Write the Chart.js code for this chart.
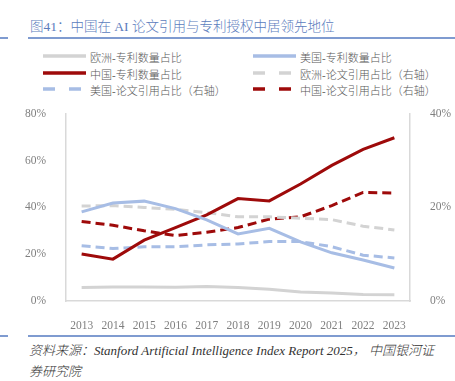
<!DOCTYPE html>
<html>
<head>
<meta charset="utf-8">
<script src="https://cdn.jsdelivr.net/npm/chart.js@4"></script>
<style>
  body { margin: 0; width: 455px; height: 381px; overflow: hidden; background: #fff; position: relative;
         font-family: "Liberation Serif", "Noto Sans CJK SC", serif; }
  .title { position: absolute; left: 30px; top: 15px; font-size: 13.5px; font-weight: 300; color: #5b7cbd; white-space: nowrap; }
  .rule { position: absolute; height: 1.5px; background: #7f9bd0; }
  .legend { position: absolute; font-size: 11px; font-weight: 300; color: #595959; white-space: nowrap; }
  .legend svg { position: absolute; left: 0; top: 3px; }
  .legend span { position: absolute; left: 47px; top: 0; }
  .src { position: absolute; left: 29px; font-size: 13px; font-style: italic; font-weight: 300; color: #333; white-space: nowrap; }
  #wrap { position: absolute; left: 0; top: 95px; width: 455px; height: 234px; }
</style>
</head>
<body>
<div class="title">图41：中国在 AI 论文引用与专利授权中居领先地位</div>
<div class="rule" style="left:0;width:8px;top:37px"></div>
<div class="rule" style="left:28px;width:427px;top:37px"></div>
<div id="legend"></div>
<div id="wrap"><canvas id="canvas"></canvas></div>
<div class="rule" style="left:0;width:8px;top:335px"></div>
<div class="rule" style="left:28px;width:427px;top:335px"></div>
<div class="src" style="top:340px">资料来源：Stanford Artificial Intelligence Index Report 2025， 中国银河证</div>
<div class="src" style="top:361px">券研究院</div>
<script>
let years = ["2013", "2014", "2015", "2016", "2017", "2018", "2019", "2020", "2021", "2022", "2023"];
// left axis: patent share (%)
let euPatent = [5.8, 6.0, 6.0, 5.9, 6.2, 5.8, 5.0, 3.9, 3.4, 2.8, 2.7];
let usPatent = [38.1, 41.9, 42.7, 39.5, 34.7, 28.7, 31.1, 25.3, 20.6, 17.5, 14.1];
let cnPatent = [20.1, 17.9, 26.0, 31.4, 36.8, 43.8, 42.8, 50.0, 58.0, 64.8, 69.8];
// right axis: citation share (%)
let euCite = [20.3, 20.4, 20.0, 19.6, 18.9, 18.0, 18.0, 17.7, 17.4, 16.0, 15.2];
let usCite = [11.8, 11.2, 11.6, 11.6, 12.0, 12.2, 12.7, 12.7, 11.6, 9.8, 9.2];
let cnCite = [17.0, 16.2, 15.0, 14.0, 14.7, 15.7, 17.5, 18.0, 20.4, 23.2, 23.1];
let leftTicks = [0, 20, 40, 60, 80];
let rightTicks = [0, 20, 40];

let grey = "#d3d3d3", blue = "#a7bde5", red = "#9e0a0a";

let series = [
    { label: "欧洲-专利数量占比", data: euPatent, color: grey, dash: [], axis: "y" },
    { label: "美国-专利数量占比", data: usPatent, color: blue, dash: [], axis: "y" },
    { label: "中国-专利数量占比", data: cnPatent, color: red, dash: [], axis: "y" },
    { label: "欧洲-论文引用占比（右轴）", data: euCite, color: grey, dash: [9, 5], axis: "y1" },
    { label: "美国-论文引用占比（右轴）", data: usCite, color: blue, dash: [9, 5], axis: "y1" },
    { label: "中国-论文引用占比（右轴）", data: cnCite, color: red, dash: [9, 5], axis: "y1" }
];

// html legend, two columns
let legend = document.getElementById("legend");
series.forEach((s, i) => {
    let col = i % 2, row = Math.floor(i / 2);
    let item = document.createElement("div");
    item.className = "legend";
    item.style.left = (43 + col * 210) + "px";
    item.style.top = (49 + row * 16.5) + "px";
    let dash = s.dash.length ? 'stroke-dasharray="12 14"' : "";
    item.innerHTML = '<svg width="44" height="8"><line x1="0" y1="4" x2="43" y2="4" stroke="' + s.color +
        '" stroke-width="3.5" ' + dash + '/></svg><span>' + s.label + '</span>';
    legend.appendChild(item);
});

let tickFont = { family: "'Liberation Serif', 'Noto Sans CJK SC'", size: 11.5 };

let chart = new Chart(document.getElementById("canvas"), {
    type: "line",
    data: {
        labels: years,
        datasets: series.map(s => ({
            label: s.label,
            data: s.data,
            yAxisID: s.axis,
            borderColor: s.color,
            borderDash: s.dash,
            borderWidth: 3,
            pointRadius: 0,
            tension: 0,
            fill: false
        }))
    },
    options: {
        responsive: true,
        maintainAspectRatio: false,
        animation: false,
        layout: { padding: { top: 8, left: 0, right: 0, bottom: 0 } },
        scales: {
            x: {
                offset: true,
                grid: { display: false },
                border: { display: true, color: "#d9d9d9", width: 1.5 },
                ticks: { color: "#7f7f7f", font: tickFont, padding: 10, maxRotation: 0, autoSkip: false },
                afterFit: scale => { scale.height = 28; }
            },
            y: {
                position: "left",
                min: 0, max: 80,
                afterBuildTicks: scale => { scale.ticks = leftTicks.map(v => ({ value: v })); },
                grid: { display: false },
                border: { display: true, color: "#d9d9d9", width: 1.5 },
                ticks: { color: "#7f7f7f", font: tickFont, padding: 12, callback: v => v + "%" },
                afterFit: scale => { scale.width = 66; }
            },
            y1: {
                position: "right",
                min: 0, max: 40,
                afterBuildTicks: scale => { scale.ticks = rightTicks.map(v => ({ value: v })); },
                grid: { display: false },
                border: { display: true, color: "#d9d9d9", width: 1.5 },
                ticks: { color: "#7f7f7f", font: tickFont, padding: 12, callback: v => v + "%" },
                afterFit: scale => { scale.width = 45; }
            }
        },
        plugins: {
            legend: { display: false },
            tooltip: { enabled: false }
        }
    }
});
</script>
</body>
</html>
